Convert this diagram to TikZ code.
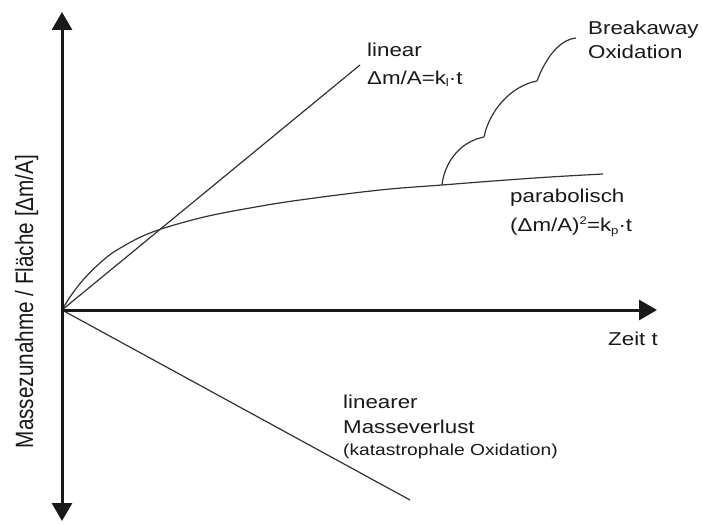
\documentclass[tikz,border=0pt]{standalone}
\usepackage{fontspec}
\setmainfont[FakeStretch=1.2]{Liberation Sans}
\newfontfamily\axisfont{Liberation Sans}
\usetikzlibrary{arrows.meta}
\tikzset{
  axisline/.style={line width=3pt, draw=black!90},
  curveline/.style={line width=1.2pt, draw=black!80, line join=round},
  lbl/.style={inner sep=0pt, anchor=base west, text=black!90, font=\fontsize{18.6}{22}\selectfont},
  smalllbl/.style={lbl, font=\fontsize{16}{19}\selectfont},
  bigtip/.tip={Triangle[length=18pt,width=20pt]}
}
\begin{document}
\begin{tikzpicture}[x=1pt,y=-1pt]
\useasboundingbox (0,0) rectangle (702,524);
\fill[white] (0,0) rectangle (702,524);
% coordinates
\coordinate (O) at (62,310);
\coordinate (Ytop) at (62,12);
\coordinate (Ybot) at (62,521);
\coordinate (Xend) at (657,310);
\coordinate (Lend) at (360,65);
\coordinate (Vend) at (410,500);
\coordinate (Pend) at (603,174);
\coordinate (B0) at (442,185);
\coordinate (B1) at (484,137);
\coordinate (B2) at (537,81);
\coordinate (B3) at (576,38);
% curves
\draw[curveline] (O) -- (Lend);
\draw[curveline] (O) -- (Vend);
\draw[curveline] plot[smooth, tension=0.6] coordinates {(62,310) (70,297) (83,280) (100,263) (117,250) (150,233) (200,218) (250,208) (300,200) (380,190) (442,185) (500,180.5) (550,177) (603,174)};
\draw[curveline] (B0) .. controls (444,165) and (458,142) .. (B1)
                      .. controls (489,112) and (510,86) .. (B2)
                      .. controls (545,60) and (558,40) .. (B3);
% axes
\draw[axisline, {bigtip}-{bigtip}] (Ybot) -- (Ytop);
\draw[axisline, -{bigtip}] (O) -- (Xend);
% labels
\node[lbl] (lin1) at (367,57) {linear};
\node[lbl] (lin2) at (367,85) {Δm/A=k{\raisebox{-2pt}{\fontsize{11}{12}\selectfont l}}·t};
\node[lbl] (br1) at (588,35) {Breakaway};
\node[lbl] (br2) at (588,59) {Oxidation};
\node[lbl] (par1) at (510,203) {parabolisch};
\node[lbl] (par2) at (510,232) {(Δm/A){\raisebox{8pt}{\fontsize{11}{12}\selectfont 2}}=k{\raisebox{-2pt}{\fontsize{11}{12}\selectfont p}}·t};
\node[lbl] (zeit) at (608,345) {Zeit t};
\node[lbl] (ml1) at (343,408) {linearer};
\node[lbl] (ml2) at (343,433) {Masseverlust};
\node[smalllbl] (ml3) at (343,455) {(katastrophale Oxidation)};
\node[inner sep=0pt, anchor=base, rotate=90, text=black!90] (ylab) at (33,301.5)
  {\scalebox{1}[1.21]{\axisfont\fontsize{20.7}{24}\selectfont Massezunahme / Fläche [Δm/A]}};
\end{tikzpicture}
\end{document}
